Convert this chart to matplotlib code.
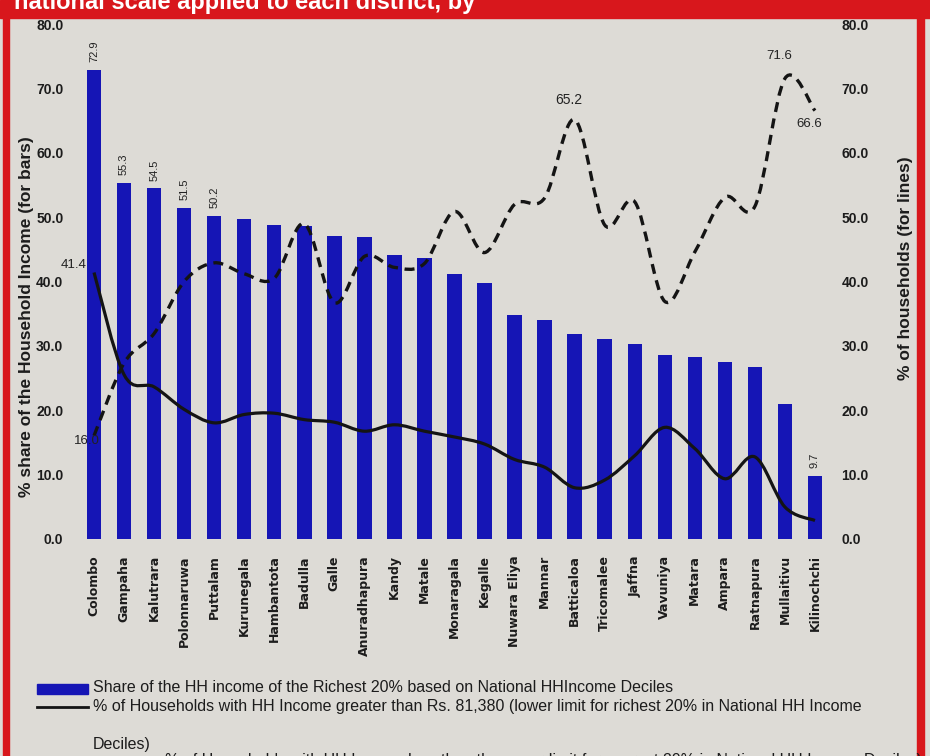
import numpy as np
import matplotlib
matplotlib.use("Agg")
import matplotlib.pyplot as plt
from matplotlib.path import Path
from matplotlib.patches import PathPatch, Rectangle
from matplotlib.lines import Line2D

districts = ['Colombo', 'Gampaha', 'Kalutrara', 'Polonnaruwa', 'Puttalam', 'Kurunegala',
             'Hambantota', 'Badulla', 'Galle', 'Anuradhapura', 'Kandy', 'Matale',
             'Monaragala', 'Kegalle', 'Nuwara Eliya', 'Mannar', 'Batticaloa', 'Tricomalee',
             'Jaffna', 'Vavuniya', 'Matara', 'Ampara', 'Ratnapura', 'Mullaitivu', 'Kilinochchi']
share_richest = [72.9, 55.3, 54.5, 51.5, 50.2, 49.8, 48.8, 48.6, 47.1, 46.9, 44.2, 43.7,
                 41.2, 39.8, 34.8, 34.0, 31.8, 31.0, 30.3, 28.5, 28.2, 27.5, 26.7, 20.9, 9.7]
hh_above = [41.4, 25.5, 23.6, 20.1, 18.0, 19.3, 19.5, 18.5, 18.1, 16.7, 17.7, 16.7,
            15.8, 14.7, 12.3, 11.1, 7.9, 9.1, 12.9, 17.3, 14.0, 9.3, 12.7, 4.9, 2.8]
hh_dashed = [16.0, 27.3, 31.9, 40.0, 42.9, 41.2, 40.5, 49.0, 36.7, 43.9, 42.2, 42.8,
             50.9, 44.5, 52.0, 53.0, 65.2, 48.8, 52.4, 36.9, 44.6, 53.1, 51.7, 71.6, 66.6]
bar_labels = {0: '72.9', 1: '55.3', 2: '54.5', 3: '51.5', 4: '50.2', 24: '9.7'}
yticks = [0, 10, 20, 30, 40, 50, 60, 70, 80]

BG = '#dddbd6'
RED = '#d8171c'
BLUE = '#1515b5'
TXT = '#1c1c1c'
SANS = ['Liberation Sans', 'DejaVu Sans']


def smooth_path(xs, ys):
    # excel style smoothed line as cubic bezier segments
    pts = np.column_stack([xs, ys]).astype(float)
    n = len(pts)
    verts = [pts[0]]
    codes = [Path.MOVETO]
    for i in range(n - 1):
        p0 = pts[i - 1] if i > 0 else pts[i]
        p1 = pts[i]
        p2 = pts[i + 1]
        p3 = pts[i + 2] if i + 2 < n else pts[i + 1]
        c1 = p1 + (p2 - p0) / 6.0
        c2 = p2 - (p3 - p1) / 6.0
        verts += [c1, c2, p2]
        codes += [Path.CURVE4] * 3
    return Path(verts, codes)


fig = plt.figure(figsize=(9.3, 7.56), dpi=100, facecolor=BG)

# frame
fig.patches.append(Rectangle((0, 1 - 18 / 756), 1, 18 / 756, transform=fig.transFigure,
                             color=RED, zorder=0))
fig.patches.append(Rectangle((3 / 930, 0), 6 / 930, 1, transform=fig.transFigure,
                             color=RED, zorder=0))
fig.patches.append(Rectangle((917 / 930, 0), 7 / 930, 1, transform=fig.transFigure,
                             color=RED, zorder=0))
fig.text(14 / 930, 1 - 3 / 756, 'national scale applied to each district, by',
         color='white', fontsize=17, fontweight='bold', family=SANS, va='center')

x = np.arange(len(districts))
ax = fig.add_axes([74.5 / 930, 217.5 / 756, 760 / 930, 514 / 756])
ax.patch.set_alpha(0)
ax.bar(x, share_richest, width=0.48, color=BLUE, zorder=2)
ax.set_xlim(-0.65, 24.65)
ax.set_ylim(0, 80)
ax.set_yticks(yticks)
ax.set_yticklabels(['%.1f' % v for v in yticks], fontsize=10, fontweight='bold',
                   family=SANS, color=TXT)
ax.set_xticks(x)
ax.set_xticklabels(districts, rotation=90, fontsize=9, fontweight='bold', color=TXT,
                   va='top')
ax.tick_params(length=0)
ax.tick_params(axis='y', pad=8)
ax.tick_params(axis='x', pad=12)
for s in ax.spines.values():
    s.set_visible(False)
ax.set_ylabel('% share of the Household Income (for bars)', fontsize=12.5,
              fontweight='bold', family=SANS, color=TXT)
ax.yaxis.set_label_coords(-0.053, 0.431)
for i, t in bar_labels.items():
    ax.text(i, share_richest[i] + 1.2, t, rotation=90, ha='center', va='bottom',
            fontsize=8, family=SANS, color='#222222')

ax2 = ax.twinx()
ax2.set_ylim(0, 80)
ax2.set_yticks(yticks)
ax2.set_yticklabels(['%.1f' % v for v in yticks], fontsize=10, fontweight='bold',
                    family=SANS, color=TXT)
ax2.tick_params(length=0, pad=5)
for s in ax2.spines.values():
    s.set_visible(False)
ax2.set_ylabel('% of households (for lines)', fontsize=12.5, fontweight='bold',
               family=SANS, color=TXT)
ax2.yaxis.set_label_coords(1.084, 0.526)

ax2.add_patch(PathPatch(smooth_path(x, hh_above), fill=False, lw=2.3,
                        edgecolor='#141414', zorder=3))
ax2.add_patch(PathPatch(smooth_path(x, hh_dashed), fill=False, lw=2.4,
                        edgecolor='#141414', linestyle=(0, (3, 2)), zorder=3))

ax2.text(-0.25, hh_above[0] + 1.2, '41.4', ha='right', va='center', fontsize=9.5,
         family=SANS, color='#222222')
ax2.text(0.2, hh_dashed[0] - 0.9, '16.0', ha='right', va='center', fontsize=9.5,
         family=SANS, color='#222222')
ax2.text(16 - 0.2, hh_dashed[16] + 2.0, '65.2', ha='center', va='bottom', fontsize=10,
         family=SANS, color='#222222')
ax2.text(23 - 0.2, hh_dashed[23] + 2.5, '71.6', ha='center', va='bottom', fontsize=9.5,
         family=SANS, color='#222222')
ax2.text(24 - 0.2, hh_dashed[24] - 1.2, '66.6', ha='center', va='top', fontsize=9.5,
         family=SANS, color='#222222')

# legend drawn by hand at the bottom
fig.patches.append(Rectangle((37 / 930, 1 - 694 / 756), 51 / 930, 10 / 756,
                             transform=fig.transFigure, color=BLUE))
fig.text(93 / 930, 1 - 688 / 756,
         'Share of the HH income of the Richest 20% based on National HHIncome Deciles',
         fontsize=11.5, family=SANS, va='center', color=TXT)
fig.lines.append(Line2D([37 / 930, 88 / 930], [1 - 707 / 756, 1 - 707 / 756],
                        transform=fig.transFigure, color='#141414', lw=2))
fig.text(93 / 930, 1 - 707 / 756,
         '% of Households with HH Income greater than Rs. 81,380 (lower limit for richest 20% in National HH Income',
         fontsize=11.5, family=SANS, va='center', color=TXT)
fig.text(93 / 930, 1 - 744 / 756, 'Deciles)', fontsize=11.5, family=SANS,
         va='center', color=TXT)
fig.text(922 / 930, 1 - 761 / 756,
         '% of Households with HH Income less than the upper limit for poorest 20% in National HH Income Deciles)',
         fontsize=11.5, family=SANS, va='center', ha='right', color=TXT)

fig.savefig('out.png', dpi=100, facecolor=BG)
